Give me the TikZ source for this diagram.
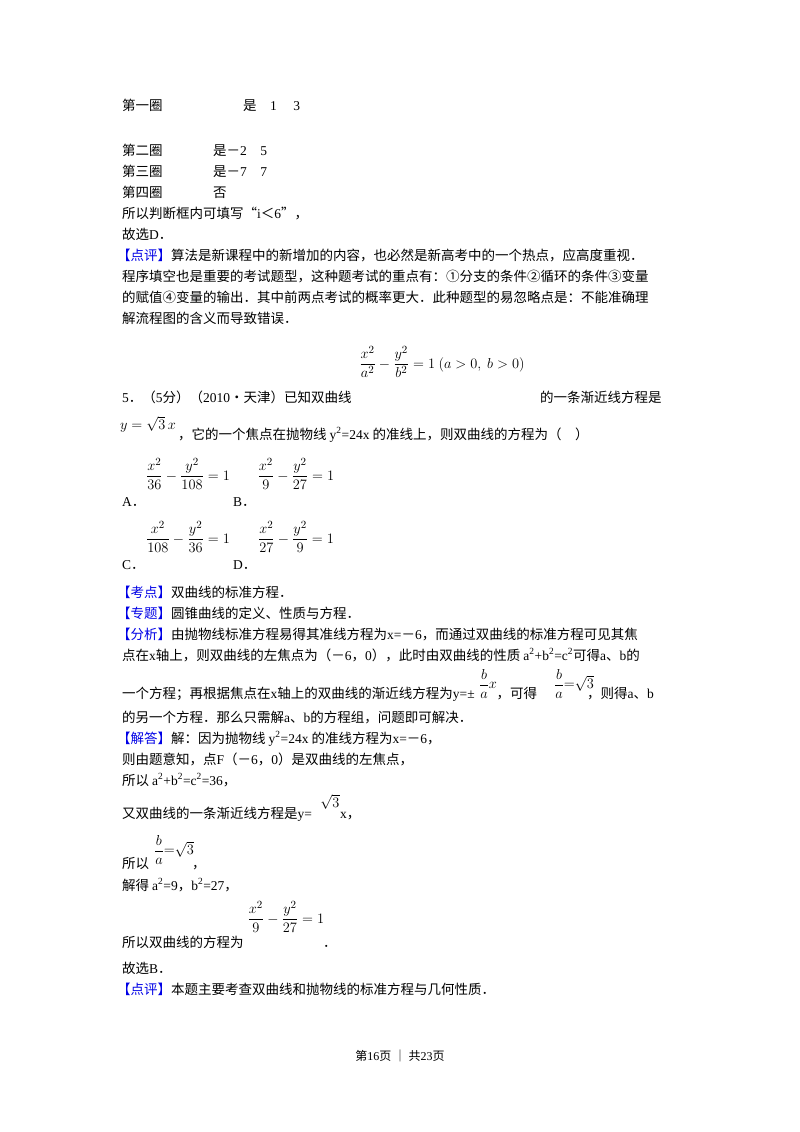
\documentclass[tikz,border=0pt]{standalone}
\usepackage{amsmath}
\usepackage{fontspec}
\setmainfont{Noto Sans CJK SC}
\newfontfamily\lat{Liberation Serif}
\definecolor{pj}{RGB}{0,0,230}
\begin{document}
\begin{tikzpicture}[x=1pt,y=-1pt,
  t/.style={anchor=base west,inner sep=0pt,font=\fontsize{13.5}{16}\selectfont},
  m/.style={anchor=center,inner sep=0pt,font=\fontsize{15}{17}\selectfont}]
\useasboundingbox[fill=white] (0,0) rectangle (800,1132);
\node[t] (l1) at (122,110) {第一圈};
\node[t] (l1b) at (243,110) {是\quad{\lat 1}\quad\ {\lat 3}};
\node[t] (l2) at (122,155) {第二圈};
\node[t] (l2b) at (213,155) {是－{\lat 2\quad 5}};
\node[t] (l3) at (122,176) {第三圈};
\node[t] (l3b) at (213,176) {是－{\lat 7\quad 7}};
\node[t] (l4) at (122,197) {第四圈};
\node[t] (l4b) at (213,197) {否};
\node[t] (l5) at (122,218) {所以判断框内可填写“{\lat i}＜{\lat 6}”，};
\node[t] (l6) at (122,239) {故选{\lat D}．};
\node[t] (l7) at (117,260) {\textcolor{pj}{【点评】}算法是新课程中的新增加的内容，也必然是新高考中的一个热点，应高度重视．};
\node[t] (l8) at (122,281) {程序填空也是重要的考试题型，这种题考试的重点有：①分支的条件②循环的条件③变量};
\node[t] (l9) at (122,302) {的赋值④变量的输出．其中前两点考试的概率更大．此种题型的易忽略点是：不能准确理};
\node[t] (l10) at (122,323) {解流程图的含义而导致错误．};
\node[m] (f0) at (442,362) {$\dfrac{x^2}{a^2}-\dfrac{y^2}{b^2}=1\ (a>0,\ b>0)$};
\node[t] (q1) at (122,402) {{\lat 5}．（{\lat 5}分）（{\lat 2010}•天津）已知双曲线};
\node[t] (q1b) at (540,402) {的一条渐近线方程是};
\node[m] (f1) at (148,424) {$y=\sqrt{3}\,x$};
\node[t] (q2) at (178,439) {，它的一个焦点在抛物线 {\lat y\textsuperscript{2}=24x} 的准线上，则双曲线的方程为（\quad ）};
\node[m] (fa) at (188,474) {$\dfrac{x^2}{36}-\dfrac{y^2}{108}=1$};
\node[t] (oa) at (122,506) {{\lat A}．};
\node[t] (ob) at (233,506) {{\lat B}．};
\node[m] (fb) at (296,474) {$\dfrac{x^2}{9}-\dfrac{y^2}{27}=1$};
\node[m] (fc) at (188,537) {$\dfrac{x^2}{108}-\dfrac{y^2}{36}=1$};
\node[t] (oc) at (122,569) {{\lat C}．};
\node[t] (od) at (233,569) {{\lat D}．};
\node[m] (fd) at (296,537) {$\dfrac{x^2}{27}-\dfrac{y^2}{9}=1$};
\node[t] (k1) at (117,597) {\textcolor{pj}{【考点】}双曲线的标准方程．};
\node[t] (k2) at (117,618) {\textcolor{pj}{【专题】}圆锥曲线的定义、性质与方程．};
\node[t] (k3) at (117,639) {\textcolor{pj}{【分析】}由抛物线标准方程易得其准线方程为{\lat x=}－{\lat 6}，而通过双曲线的标准方程可见其焦};
\node[t] (k4) at (122,660) {点在{\lat x}轴上，则双曲线的左焦点为（－{\lat 6}，{\lat 0}），此时由双曲线的性质 {\lat a\textsuperscript{2}+b\textsuperscript{2}=c\textsuperscript{2}}可得{\lat a}、{\lat b}的};
\node[t] (k5) at (122,698) {一个方程；再根据焦点在{\lat x}轴上的双曲线的渐近线方程为{\lat y=±}\hspace{22pt}，可得\hspace{50pt}，则得{\lat a}、{\lat b}};
\node[m] (fk1) at (488,684) {$\dfrac{b}{a}x$};
\node[m] (fk2) at (574,684) {$\dfrac{b}{a}{=}\sqrt{3}$};
\node[t] (k6) at (122,722) {的另一个方程．那么只需解{\lat a}、{\lat b}的方程组，问题即可解决．};
\node[t] (s1) at (117,743) {\textcolor{pj}{【解答】}解：因为抛物线 {\lat y\textsuperscript{2}=24x} 的准线方程为{\lat x=}－{\lat 6}，};
\node[t] (s2) at (122,764) {则由题意知，点{\lat F}（－{\lat 6}，{\lat 0}）是双曲线的左焦点，};
\node[t] (s3) at (122,785) {所以 {\lat a\textsuperscript{2}+b\textsuperscript{2}=c\textsuperscript{2}=36}，};
\node[t] (s4) at (122,818) {又双曲线的一条渐近线方程是{\lat y=}\hspace{28pt}{\lat x}，};
\node[m] (fs4) at (330,802) {$\sqrt{3}$};
\node[t] (s5) at (122,868) {所以};
\node[m] (fs5) at (174,850) {$\dfrac{b}{a}{=}\sqrt{3}$};
\node[t] (s5b) at (192,868) {，};
\node[t] (s6) at (122,890) {解得 {\lat a\textsuperscript{2}=9}，{\lat b\textsuperscript{2}=27}，};
\node[m] (fs7) at (286,917) {$\dfrac{x^2}{9}-\dfrac{y^2}{27}=1$};
\node[t] (s7) at (122,947) {所以双曲线的方程为};
\node[t] (s7b) at (323,947) {．};
\node[t] (s8) at (122,973) {故选{\lat B}．};
\node[t] (s9) at (117,994) {\textcolor{pj}{【点评】}本题主要考查双曲线和抛物线的标准方程与几何性质．};
\node[anchor=base,inner sep=0pt,font=\fontsize{12}{14}\selectfont] (ft) at (400,1060) {第{\lat 16}页 ｜ 共{\lat 23}页};
\end{tikzpicture}
\end{document}
